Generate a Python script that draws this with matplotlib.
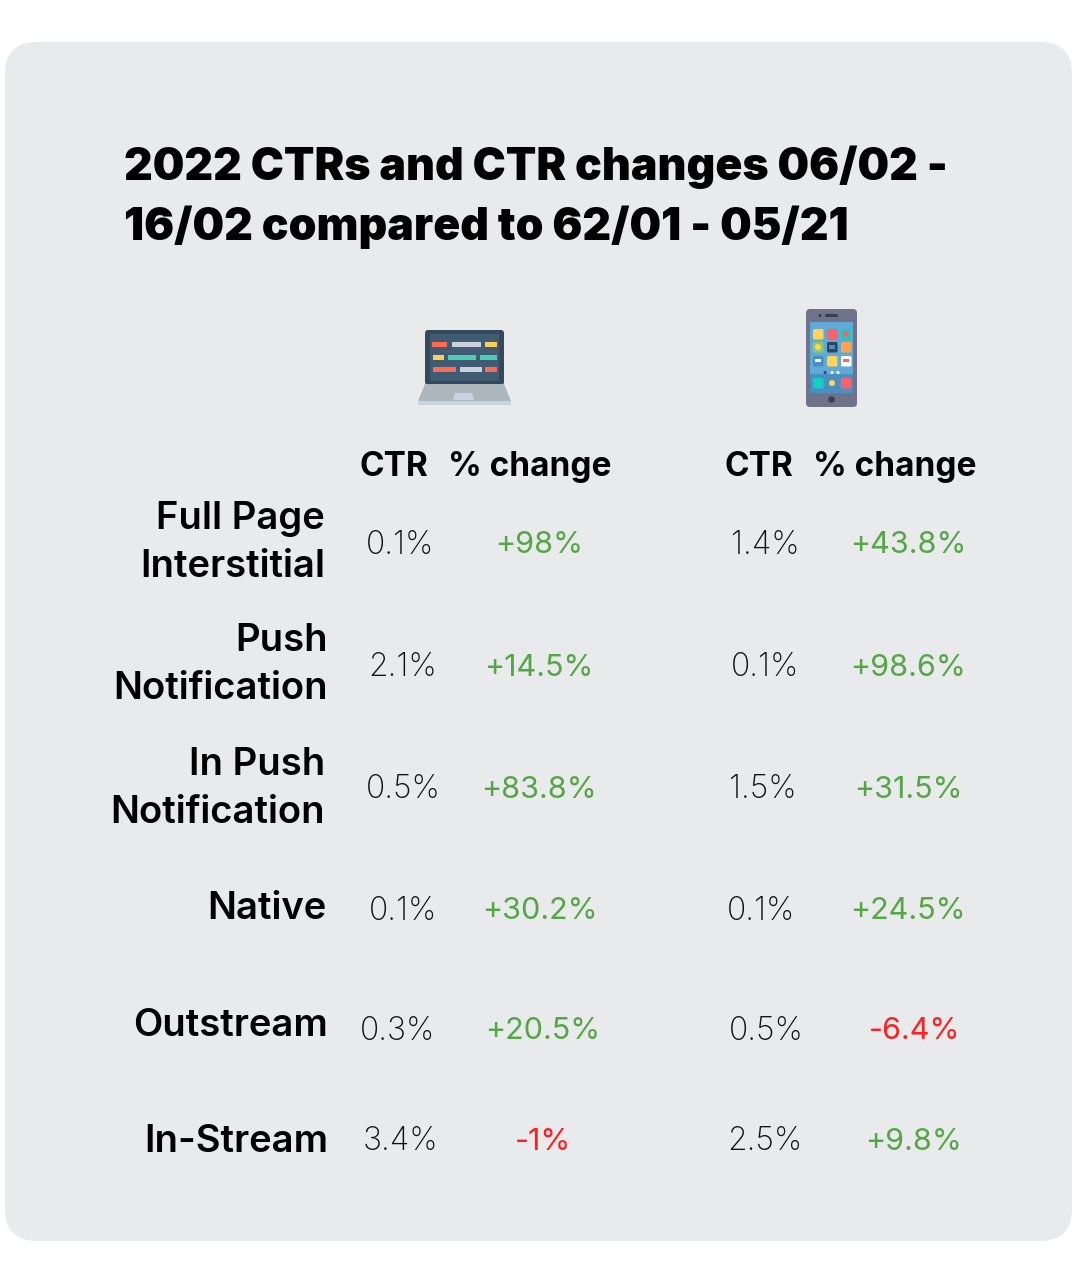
import matplotlib
matplotlib.use("Agg")
import matplotlib.pyplot as plt
from matplotlib.patches import FancyBboxPatch, Rectangle, Circle, Polygon

title = "2022 CTRs and CTR changes 06/02 -\n16/02 compared to 62/01 - 05/21"
formats = ["Full Page\nInterstitial", "Push\nNotification", "In Push\nNotification",
           "Native", "Outstream", "In-Stream"]
desktop_ctr = ["0.1%", "2.1%", "0.5%", "0.1%", "0.3%", "3.4%"]
desktop_change = ["+98%", "+14.5%", "+83.8%", "+30.2%", "+20.5%", "-1%"]
mobile_ctr = ["1.4%", "0.1%", "1.5%", "0.1%", "0.5%", "2.5%"]
mobile_change = ["+43.8%", "+98.6%", "+31.5%", "+24.5%", "-6.4%", "+9.8%"]

# layout, in pixels of the reference
label_x = [325, 328, 325, 326, 328, 328]
label_y = [543, 665, 789, 909, 1026, 1142]
row_y = [545, 668, 790, 911, 1031, 1142]
desktop_ctr_x = [400, 403, 403, 403, 398, 400]
desktop_change_x = [539, 539, 539, 540, 543, 543]
mobile_ctr_x = [765, 765, 763, 761, 766, 765]
mobile_change_x = [908, 908, 908, 908, 915, 914]

plt.rcParams['font.family'] = ['Inter', 'DejaVu Sans']
green = "#55a644"
red = "#ff1f1f"

fig = plt.figure(figsize=(10.79, 12.74), dpi=100)
ax = fig.add_axes([0, 0, 1, 1])
ax.set_xlim(0, 1079)
ax.set_ylim(1274, 0)
ax.axis("off")

# card
ax.add_patch(FancyBboxPatch((5 + 32, 42 + 32), 1067 - 64, 1199 - 64,
                            boxstyle="round,pad=32,rounding_size=32",
                            fc="#e9eaec", ec="none"))

ax.text(124, 197.5, title, fontsize=32, fontweight="black", color="black",
        ha="left", va="center", linespacing=1.49)


def rect(x, y, w, h, c, z=3):
    ax.add_patch(Rectangle((x, y), w, h, fc=c, ec="none", zorder=z))


def rrect(x, y, w, h, r, c, z=3):
    ax.add_patch(FancyBboxPatch((x + r, y + r), w - 2 * r, h - 2 * r,
                                boxstyle=f"round,pad={r},rounding_size={r}",
                                fc=c, ec="none", zorder=z))


# laptop icon
rrect(425, 330, 79, 55, 3, "#34495e")
rect(430, 334, 69, 47, "#415b73")
ax.add_patch(Polygon([[425, 384], [504, 384], [511, 401], [418, 401]], fc="#adb5bd", ec="none", zorder=3))
rect(418, 401, 93, 4, "#cbd3dc")
ax.add_patch(Polygon([[455, 393], [472, 393], [474, 400], [453, 400]], fc="#cbd3e3", ec="none", zorder=4))
laptop_bars = [(432, 342, 15, "#ff6b50"), (452, 342, 29, "#c9d2de"), (485, 342, 12, "#ffcf55"),
               (433, 355, 11, "#ffcf55"), (448, 355, 28, "#48cfb5"), (480, 355, 17, "#48cfb5"),
               (433, 367, 23, "#ff6b50"), (460, 367, 22, "#c9d2de"), (485, 367, 12, "#ff6b50")]
for bx, by, bw, bc in laptop_bars:
    rect(bx, by, bw, 5, bc, z=4)

# phone icon
rrect(806, 309, 51, 98, 4, "#6f7389")
rect(810, 322, 43, 71, "#5faad6")
rect(810, 374, 43, 19, "#4a8fc2")
rrect(825, 314, 13, 3, 1.4, "#3a3f50", z=4)
ax.add_patch(Circle((820, 315.5), 1.5, fc="#3a3f50", zorder=4))
ax.add_patch(Circle((831.5, 399.5), 3.3, fc="#3a3f50", zorder=4))
phone_tiles = [(813, 329, "#ffd35c"), (827, 329, "#ff5f67"), (841, 329, "#12d1c0"),
               (813, 342, "#93c76c"), (827, 342, "#34435c"), (841, 342, "#ffa34d"),
               (813, 356, "#4a8fc2"), (827, 356, "#ffd35c"), (841, 356, "#ffffff"),
               (813, 378, "#12d1c0"), (827, 378, "#4a8fc2"), (841, 378, "#ff5f67")]
for tx, ty, tc in phone_tiles:
    rrect(tx, ty, 10.5, 10.5, 1.5, tc, z=4)
ax.add_patch(Circle((846, 334), 3, fc="#ff5f67", zorder=5))
ax.add_patch(Circle((818, 347), 3, fc="#ffd35c", zorder=5))
ax.add_patch(Circle((832, 383), 3, fc="#ffd35c", zorder=5))
rect(829, 345, 6, 4, "#4a8fc2", z=5)
rect(815, 359, 6, 3, "#ffffff", z=5)
rect(843, 359, 6, 3, "#ff5f67", z=5)
for dx, dc in [(825, "#34435c"), (832, "#ffffff"), (838, "#ffffff")]:
    ax.add_patch(Circle((dx, 372.5), 1.5, fc=dc, zorder=5))

# column headers
for x, s in [(394, "CTR"), (530, "% change"), (759, "CTR"), (895, "% change")]:
    ax.text(x, 467, s, fontsize=24, fontweight="bold", ha="center", va="center", color="black")

for i, name in enumerate(formats):
    ax.text(label_x[i], label_y[i], name, fontsize=27.5, fontweight="semibold", ha="right", va="center",
            linespacing=1.42, color="black")
    ax.text(desktop_ctr_x[i], row_y[i], desktop_ctr[i], fontsize=23, fontweight="light",
            ha="center", va="center", color="#111111")
    ax.text(mobile_ctr_x[i], row_y[i], mobile_ctr[i], fontsize=23, fontweight="light",
            ha="center", va="center", color="#111111")
    c = red if desktop_change[i].startswith("-") else green
    ax.text(desktop_change_x[i], row_y[i], desktop_change[i], fontsize=22, ha="center", va="center", color=c)
    c = red if mobile_change[i].startswith("-") else green
    ax.text(mobile_change_x[i], row_y[i], mobile_change[i], fontsize=22, ha="center", va="center", color=c)

fig.savefig("out.png", dpi=100, facecolor="white")
